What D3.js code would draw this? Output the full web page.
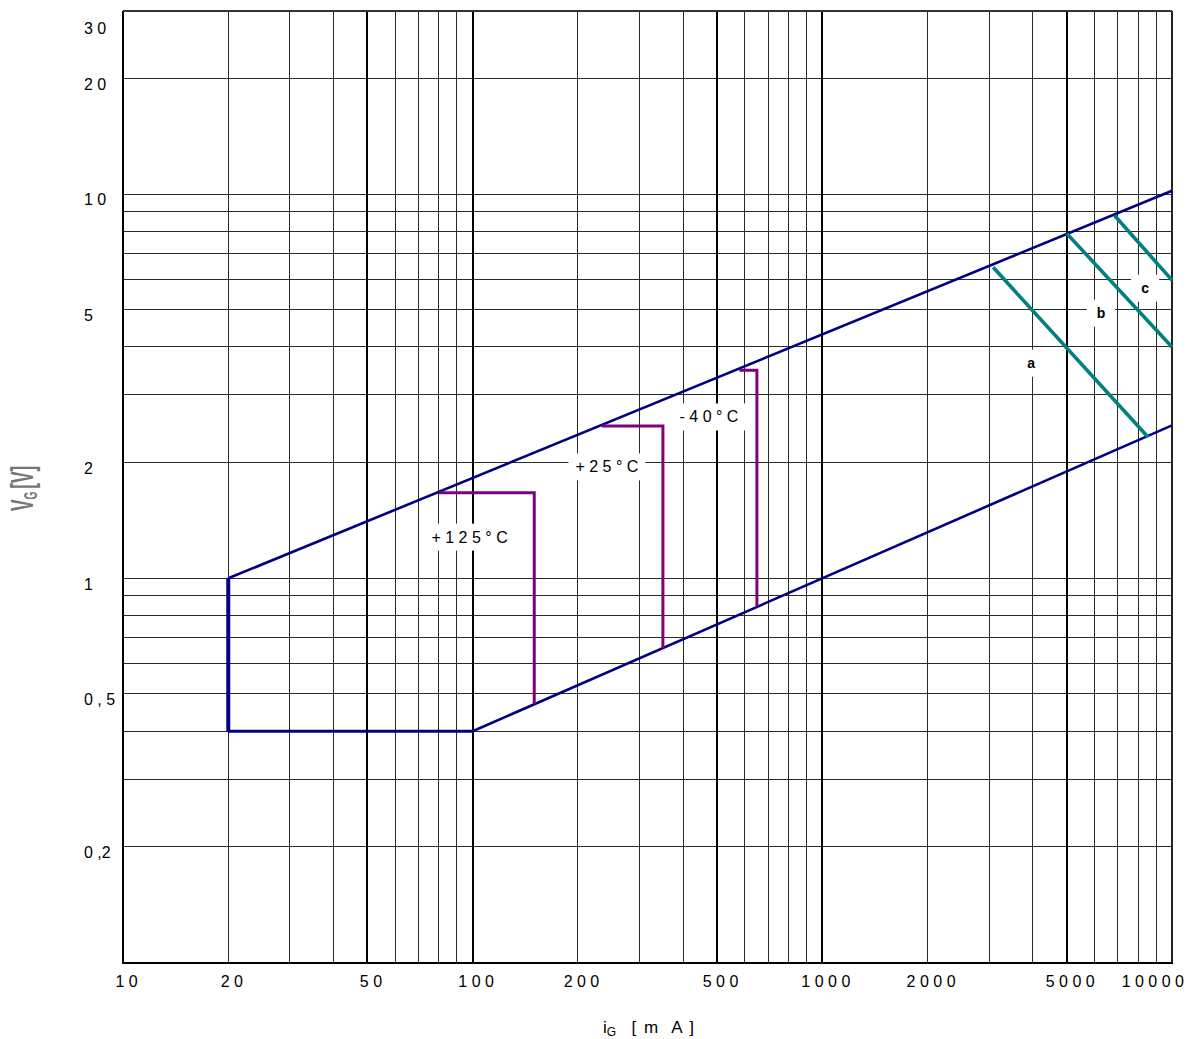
<!DOCTYPE html>
<html>
<head>
<meta charset="utf-8">
<script src="https://d3js.org/d3.v7.min.js"></script>
<style>
  html, body { margin: 0; padding: 0; background: #fff; }
  svg { display: block; }
  text { font-family: "Liberation Sans", Arial, Helvetica, sans-serif; }
</style>
</head>
<body>
<svg id="chart" width="1199" height="1039"></svg>
<script>
// ---------------- data ----------------
const xTicks = [10, 20, 50, 100, 200, 500, 1000, 2000, 5000, 10000];
const xTickLabels = ["1 0", "2 0", "5 0", "1 0 0", "2 0 0", "5 0 0", "1 0 0 0", "2 0 0 0", "5 0 0 0", "1 0 0 0 0"];
const yTicks = [30, 20, 10, 5, 2, 1, 0.5, 0.2];
const yTickLabels = ["3 0", "2 0", "1 0", "5", "2", "1", "0 , 5", "0 ,2"];

const xGridMinor = [20, 30, 40, 60, 70, 80, 90, 200, 300, 400, 600, 700, 800, 900, 2000, 3000, 4000, 6000, 7000, 8000, 9000];
const xGridMajor = [50, 100, 500, 1000, 5000];
const yGrid = [0.2, 0.3, 0.4, 0.5, 0.6, 0.7, 0.8, 0.9, 1, 2, 3, 4, 5, 6, 7, 8, 9, 10, 20];

// boundary of the gate trigger area (navy)
const upperBoundary = [[20, 1], [10000, 10.2]];
const lowerBoundary = [[100, 0.4], [10000, 2.5]];
const leftBoundary = [[20, 0.4], [20, 1]];
const bottomBoundary = [[20, 0.4], [100, 0.4]];

// temperature limits (purple)
const temp125 = [[80, 1.67], [150, 1.67], [150, 0.47]];
const temp25 = [[234, 2.49], [350, 2.49], [350, 0.658]];
const tempM40 = [[579, 3.48], [650, 3.48], [650, 0.843]];

// power limits (teal)
const powerA = [[3080, 6.45], [8550, 2.33]];
const powerB = [[5000, 7.9], [10000, 4.0]];
const powerC = [[6850, 8.8], [10000, 5.97]];

// annotations
const tempLabels = ["+ 1 2 5 ° C", "+ 2 5 ° C", "- 4 0 ° C"];
const tempLabelX = [98, 242, 474];
const tempLabelY = [1.28, 1.95, 2.63];
const curveLabels = ["a", "b", "c"];
const curveLabelX = [3955, 6267, 8375];
const curveLabelY = [3.63, 4.9, 5.69];

// ---------------- drawing ----------------
const W = 1199, H = 1039;
const svg = d3.select("#chart");
const x = d3.scaleLog().domain([10, 10000]).range([123, 1172]);
const y = d3.scaleLog().domain([0.1, 30]).range([962.5, 10.8]);
const [x0, x1] = x.range();
const [yb, yt] = y.range();

const grid = svg.append("g").attr("shape-rendering", "crispEdges");
grid.selectAll("line.h").data(yGrid).join("line")
  .attr("x1", x0).attr("x2", x1)
  .attr("y1", d => y(d)).attr("y2", d => y(d))
  .attr("stroke", "#2a2a2a").attr("stroke-width", 1);
grid.selectAll("line.vm").data(xGridMinor).join("line")
  .attr("x1", d => x(d)).attr("x2", d => x(d))
  .attr("y1", yt).attr("y2", yb)
  .attr("stroke", "#2a2a2a").attr("stroke-width", 1);
grid.selectAll("line.vM").data(xGridMajor).join("line")
  .attr("x1", d => x(d)).attr("x2", d => x(d))
  .attr("y1", yt).attr("y2", yb)
  .attr("stroke", "#000").attr("stroke-width", 2);
// frame
grid.append("line").attr("x1", x0).attr("x2", x0).attr("y1", yt).attr("y2", yb + 1).attr("stroke", "#000").attr("stroke-width", 2);
grid.append("line").attr("x1", x1).attr("x2", x1).attr("y1", yt).attr("y2", yb + 1).attr("stroke", "#222").attr("stroke-width", 2);
grid.append("line").attr("x1", x0).attr("x2", x1).attr("y1", yt).attr("y2", yt).attr("stroke", "#333").attr("stroke-width", 1.5);
grid.append("line").attr("x1", x0 - 1).attr("x2", x1 + 1).attr("y1", yb + 0.5).attr("y2", yb + 0.5).attr("stroke", "#000").attr("stroke-width", 2);

function boxedLabel(g, txt, cx, cy, opts) {
  const t = g.append("text")
    .attr("x", x(cx)).attr("y", y(cy))
    .attr("text-anchor", "middle")
    .attr("dominant-baseline", "central")
    .attr("font-size", opts.size)
    .attr("font-weight", opts.weight || "normal")
    .attr("fill", "#000")
    .text(txt);
  const b = t.node().getBBox();
  g.insert("rect", "text")
    .attr("x", b.x - opts.padX).attr("y", y(cy) - opts.h / 2)
    .attr("width", b.width + 2 * opts.padX).attr("height", opts.h)
    .attr("fill", "#fff");
}
const labelsG = svg.append("g");

const line = d3.line().x(d => x(d[0])).y(d => y(d[1]));
const curves = svg.append("g").attr("fill", "none").attr("stroke-linejoin", "miter").attr("stroke-linecap", "butt");
curves.append("path").attr("d", line(upperBoundary)).attr("stroke", "#000080").attr("stroke-width", 2.6);
curves.append("path").attr("d", line(lowerBoundary)).attr("stroke", "#000080").attr("stroke-width", 2.6);
curves.append("path").attr("d", line(leftBoundary)).attr("stroke", "#000080").attr("stroke-width", 4);
curves.append("path").attr("d", line(bottomBoundary)).attr("stroke", "#000080").attr("stroke-width", 3);

[temp125, temp25, tempM40].forEach(s => {
  curves.append("path").attr("d", line(s)).attr("stroke", "#800080").attr("stroke-width", 3);
});
[powerA, powerB, powerC].forEach(s => {
  curves.append("path").attr("d", line(s)).attr("stroke", "#008080").attr("stroke-width", 3.6);
});

tempLabels.forEach((t, i) => boxedLabel(labelsG, t, tempLabelX[i], tempLabelY[i], { size: 16, padX: 7, h: 27 }));
curveLabels.forEach((t, i) => boxedLabel(labelsG, t, curveLabelX[i], curveLabelY[i], { size: 14, weight: "bold", padX: 10, h: 27 }));

// axes (labels only)
const xAxis = svg.append("g")
  .attr("transform", `translate(0,${yb})`)
  .call(d3.axisBottom(x).tickValues(xTicks).tickFormat((d, i) => xTickLabels[i]).tickSize(0).tickPadding(13));
xAxis.select(".domain").remove();
xAxis.selectAll("text")
  .attr("font-family", '"Liberation Sans", Arial, sans-serif')
  .attr("font-size", 16).attr("fill", "#000")
  .attr("dx", 3)
  .each(function () {
    const b = this.getBBox();
    const tr = d3.select(this.parentNode).attr("transform");
    const tx = +/translate\(([-\d.]+)/.exec(tr)[1];
    const right = tx + b.x + b.width + 3;
    if (right > W - 12) d3.select(this).attr("dx", 3 - (right - (W - 12)));
  });

const yAxis = svg.append("g")
  .attr("transform", `translate(${x0},0)`)
  .call(d3.axisLeft(y).tickValues(yTicks).tickFormat((d, i) => yTickLabels[i]).tickSize(0).tickPadding(0));
yAxis.select(".domain").remove();
yAxis.selectAll(".tick")
  .attr("transform", d => `translate(0,${Math.max(y(d), 23)})`);
yAxis.selectAll("text")
  .attr("font-family", '"Liberation Sans", Arial, sans-serif')
  .attr("font-size", 16).attr("fill", "#000")
  .attr("text-anchor", "start")
  .attr("x", 84 - x0)
  .attr("dy", "0.71em");

// axis titles
const xt = svg.append("text")
  .attr("x", 603).attr("y", 1033)
  .attr("font-size", 17).attr("fill", "#000")
  .attr("xml:space", "preserve");
xt.append("tspan").text("i");
xt.append("tspan").attr("font-size", 12).attr("dy", 3).text("G");
xt.append("tspan").attr("dy", -3).attr("dx", 3).attr("letter-spacing", 1.5).text("  [ m  A ]");

const yt2 = svg.append("text")
  .attr("transform", "translate(33,511) rotate(-90) scale(0.72,1.28)")
  .attr("font-size", 24).attr("fill", "#767676").attr("font-weight", "bold");
yt2.append("tspan").text("V");
yt2.append("tspan").attr("font-size", 14).attr("dy", 3).text("G");
yt2.append("tspan").attr("dy", -3).attr("dx", 4).text("[V]");
</script>
</body>
</html>
